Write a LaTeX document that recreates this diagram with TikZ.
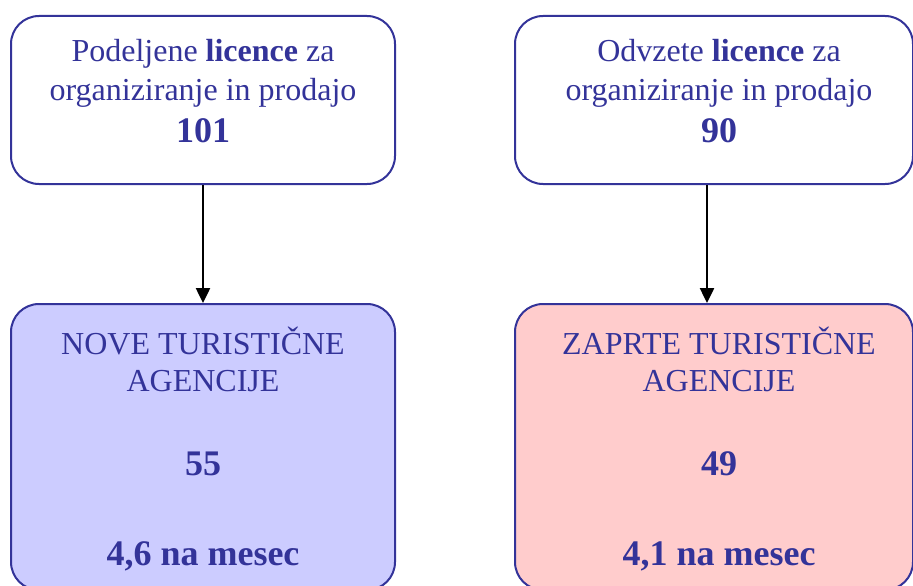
\documentclass[tikz,border=0pt]{standalone}
\usepackage{fontspec}
\setmainfont{Liberation Serif}
\usetikzlibrary{arrows.meta}
\definecolor{txtblue}{HTML}{333399}
\definecolor{newfill}{HTML}{CCCCFF}
\definecolor{closedfill}{HTML}{FFCCCC}
\tikzset{
  box/.style={draw=txtblue, line width=2pt, rounded corners=28pt, inner sep=0pt},
  txt/.style={text=txtblue, inner sep=0pt, anchor=base, font=\fontsize{32}{38}\selectfont},
  big/.style={text=txtblue, inner sep=0pt, anchor=base, font=\fontsize{36}{42}\selectfont\bfseries},
  flow/.style={-{Triangle[length=15pt, width=14pt]}, line width=2.5pt, black}
}
\begin{document}
\begin{tikzpicture}[x=1pt,y=-1pt]
        \useasboundingbox (0,0) rectangle (913,586);
        % boxes
        \node [box, minimum width=384pt, minimum height=168pt] (given) at (203,100) {};
        \node [box, minimum width=398pt, minimum height=168pt] (taken) at (714,100) {};
        \node [box, fill=newfill, minimum width=384pt, minimum height=286pt] (new) at (203,447) {};
        \node [box, fill=closedfill, minimum width=398pt, minimum height=286pt] (closed) at (714,447) {};
        % texts
        \node [txt] (given1) at (203,62)  {Podeljene \textbf{licence} za};
        \node [txt] (given2) at (203,100) {organiziranje in prodajo};
        \node [big] (given3) at (203,142) {101};
        \node [txt] (taken1) at (719,62)  {Odvzete \textbf{licence} za};
        \node [txt] (taken2) at (719,100) {organiziranje in prodajo};
        \node [big] (taken3) at (719,142) {90};
        \node [txt] (new1) at (203,354) {NOVE TURISTIČNE};
        \node [txt] (new2) at (203,391) {AGENCIJE};
        \node [big] (new3) at (203,475) {55};
        \node [big] (new4) at (203,565) {4,6 na mesec};
        \node [txt] (closed1) at (719,354) {ZAPRTE TURISTIČNE};
        \node [txt] (closed2) at (719,391) {AGENCIJE};
        \node [big] (closed3) at (719,475) {49};
        \node [big] (closed4) at (719,565) {4,1 na mesec};
        % arrows
        \draw [flow] (given) -- (new);
        \draw [flow] ([xshift=-7pt]taken.south) -- ([xshift=-7pt]closed.north);
    \end{tikzpicture}
\end{document}
